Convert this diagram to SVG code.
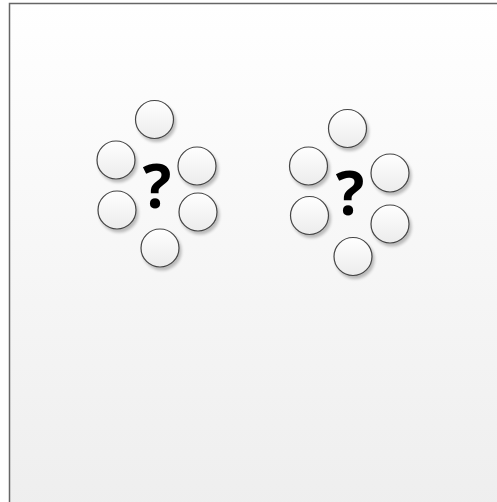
<svg xmlns="http://www.w3.org/2000/svg" width="497" height="502" viewBox="0 0 497 502">
<defs>
<linearGradient id="bg" x1="0" y1="0" x2="0" y2="1">
<stop offset="0" stop-color="#ffffff"/>
<stop offset="1" stop-color="#eeeeee"/>
</linearGradient>
<linearGradient id="cf" x1="0" y1="0" x2="0" y2="1">
<stop offset="0" stop-color="#ffffff"/>
<stop offset="1" stop-color="#ececec"/>
</linearGradient>
<filter id="sh" x="-30%" y="-30%" width="160%" height="160%">
<feGaussianBlur in="SourceAlpha" stdDeviation="1.5"/>
<feOffset dx="2" dy="2.5" result="b"/>
<feComponentTransfer><feFuncA type="linear" slope="0.25"/></feComponentTransfer>
<feMerge><feMergeNode/><feMergeNode in="SourceGraphic"/></feMerge>
</filter>
</defs>
<style>
.c{fill:url(#cf);stroke:#444;stroke-width:1.2;filter:url(#sh)}
.q{font-family:"Open Sans","Liberation Sans",sans-serif;font-weight:bold;font-size:60px;fill:#000;text-anchor:middle}
</style>
<rect x="9.5" y="3.5" width="500" height="510" fill="url(#bg)" stroke="#666" stroke-width="1.5"/>
<g id="group1">
<circle class="c" cx="154.5" cy="119.5" r="19"/>
<circle class="c" cx="116" cy="160" r="19"/>
<circle class="c" cx="197" cy="166" r="19"/>
<circle class="c" cx="117" cy="210" r="19"/>
<circle class="c" cx="198" cy="212" r="19"/>
<circle class="c" cx="160" cy="248" r="19"/>
<text class="q" x="157" y="208">?</text>
</g>
<g id="group2">
<circle class="c" cx="347.5" cy="128.5" r="19"/>
<circle class="c" cx="308.5" cy="166" r="19"/>
<circle class="c" cx="390" cy="173" r="19"/>
<circle class="c" cx="309.5" cy="215.5" r="19"/>
<circle class="c" cx="390" cy="224" r="19"/>
<circle class="c" cx="353" cy="256.5" r="19"/>
<text class="q" x="350" y="215">?</text>
</g>
<g id="connectors"/>
</svg>
